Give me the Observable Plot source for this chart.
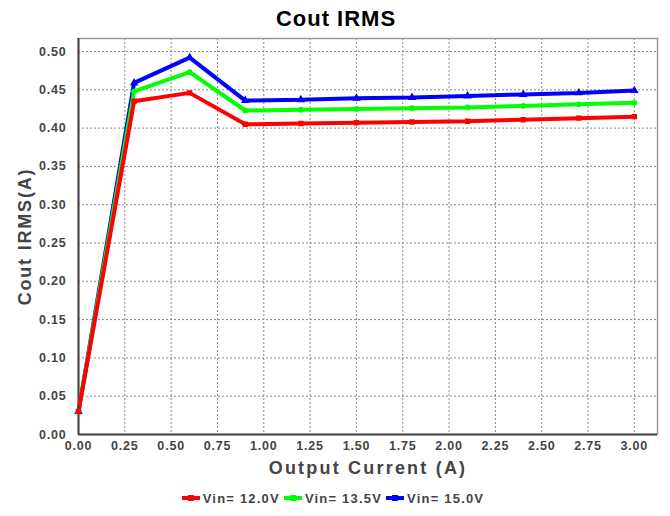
<!DOCTYPE html>
<html><head><meta charset="utf-8">
<script src="https://cdn.jsdelivr.net/npm/d3@7"></script>
<script src="https://cdn.jsdelivr.net/npm/@observablehq/plot@0.6"></script>
<style>
body{margin:0;background:#fff;font-family:"Liberation Sans",Arial,sans-serif;}
#wrap{width:670px;}
#title{height:36px;line-height:38px;text-align:center;font-size:22px;font-weight:bold;color:#000;letter-spacing:1px;padding-left:2px;}
#legend{display:flex;justify-content:center;align-items:center;height:36px;font-size:13px;font-weight:bold;color:#444;letter-spacing:1.2px;margin-left:-6px;}
.item{display:flex;align-items:center;margin:0 1px;}
.sw{position:relative;width:22px;height:12px;margin-right:1px;}
.sw .ln{position:absolute;left:2px;right:2px;top:4px;height:4px;}
.sw .mk{position:absolute;left:8px;top:3px;width:6px;height:6px;}
</style></head>
<body><div id="wrap"><div id="title">Cout IRMS</div><div id="chart"></div><div id="legend"></div></div>
<script>
const current = [0, 0.3, 0.6, 0.9, 1.2, 1.5, 1.8, 2.1, 2.4, 2.7, 3.0];
const vin12 = [0.030, 0.435, 0.446, 0.405, 0.406, 0.407, 0.408, 0.409, 0.411, 0.413, 0.415];
const vin135 = [0.030, 0.448, 0.473, 0.423, 0.424, 0.425, 0.426, 0.427, 0.429, 0.431, 0.433];
const vin15 = [0.030, 0.459, 0.492, 0.436, 0.437, 0.439, 0.440, 0.442, 0.444, 0.446, 0.449];
const seriesNames = ["Vin= 12.0V", "Vin= 13.5V", "Vin= 15.0V"];
const seriesColors = ["#ff0000", "#00ff00", "#0000ff"];
const seriesSymbols = ["square", "circle", "triangle"];
const xTicks = [0, 0.25, 0.5, 0.75, 1, 1.25, 1.5, 1.75, 2, 2.25, 2.5, 2.75, 3];
const yTicks = [0, 0.05, 0.1, 0.15, 0.2, 0.25, 0.3, 0.35, 0.4, 0.45, 0.5];
const xLabel = "Output Current (A)";
const yLabel = "Cout IRMS(A)";

const allVals = [vin12, vin135, vin15];
const data = [];
// draw blue first, red last (red on top)
[2, 1, 0].forEach(s => allVals[s].forEach((v, i) => data.push({x: current[i], y: v, s: seriesNames[s]})));

const chart = Plot.plot({
  width: 670, height: 444,
  marginLeft: 78, marginRight: 13, marginTop: 2, marginBottom: 46,
  style: {fontFamily: '"Liberation Sans", Arial, sans-serif', background: "#fff", letterSpacing: "0.8px"},
  x: {domain: [0, 3.125], ticks: xTicks, label: null},
  y: {domain: [0, 0.517], ticks: yTicks, label: null},
  color: {domain: seriesNames, range: seriesColors},
  symbol: {domain: seriesNames, range: seriesSymbols},
  marks: [
    Plot.gridX(xTicks, {stroke: "#888", strokeOpacity: 1, strokeDasharray: "2,2", strokeWidth: 1}),
    Plot.gridY(yTicks, {stroke: "#888", strokeOpacity: 1, strokeDasharray: "2,2", strokeWidth: 1}),
    Plot.frame({stroke: "#999", strokeWidth: 1.5}),
    Plot.ruleX([0], {stroke: "#444", strokeWidth: 2}),
    Plot.ruleY([0], {stroke: "#444", strokeWidth: 2}),
    Plot.axisX({ticks: xTicks, tickSize: 0, tickPadding: 7, tickFormat: d3.format(".2f"), fontSize: 12.5, fontWeight: "bold", fill: "#444", label: null}),
    Plot.axisY({ticks: yTicks, tickSize: 0, tickPadding: 12, tickFormat: d3.format(".2f"), fontSize: 12.5, fontWeight: "bold", fill: "#444", label: null}),
    Plot.line(data, {x: "x", y: "y", z: "s", stroke: "s", strokeWidth: 4, strokeLinejoin: "miter"}),
    Plot.dot(data, {x: "x", y: "y", symbol: "s", fill: "s", stroke: "s", r: 2.2}),
    Plot.text([xLabel], {frameAnchor: "bottom", textAnchor: "middle", dy: 39, fontSize: 18, fontWeight: "bold", fill: "#444"}),
    Plot.text([yLabel], {frameAnchor: "left", textAnchor: "middle", dx: -53, rotate: -90, fontSize: 18, fontWeight: "bold", fill: "#444"})
  ]
});
d3.select(chart).selectAll("text").each(function() {
  const t = this.textContent;
  if (t === xLabel) d3.select(this).style("letter-spacing", "2.2px");
  if (t === yLabel) d3.select(this).style("letter-spacing", "1.8px");
});
document.getElementById("chart").appendChild(chart);

const legend = document.getElementById("legend");
seriesNames.forEach((name, i) => {
  const item = document.createElement("div");
  item.className = "item";
  const sw = document.createElement("div");
  sw.className = "sw";
  const ln = document.createElement("div"); ln.className = "ln"; ln.style.background = seriesColors[i];
  const mk = document.createElement("div"); mk.className = "mk"; mk.style.background = seriesColors[i];
  sw.appendChild(ln); sw.appendChild(mk);
  const t = document.createElement("span"); t.textContent = name;
  item.appendChild(sw); item.appendChild(t);
  legend.appendChild(item);
});
</script></body></html>
